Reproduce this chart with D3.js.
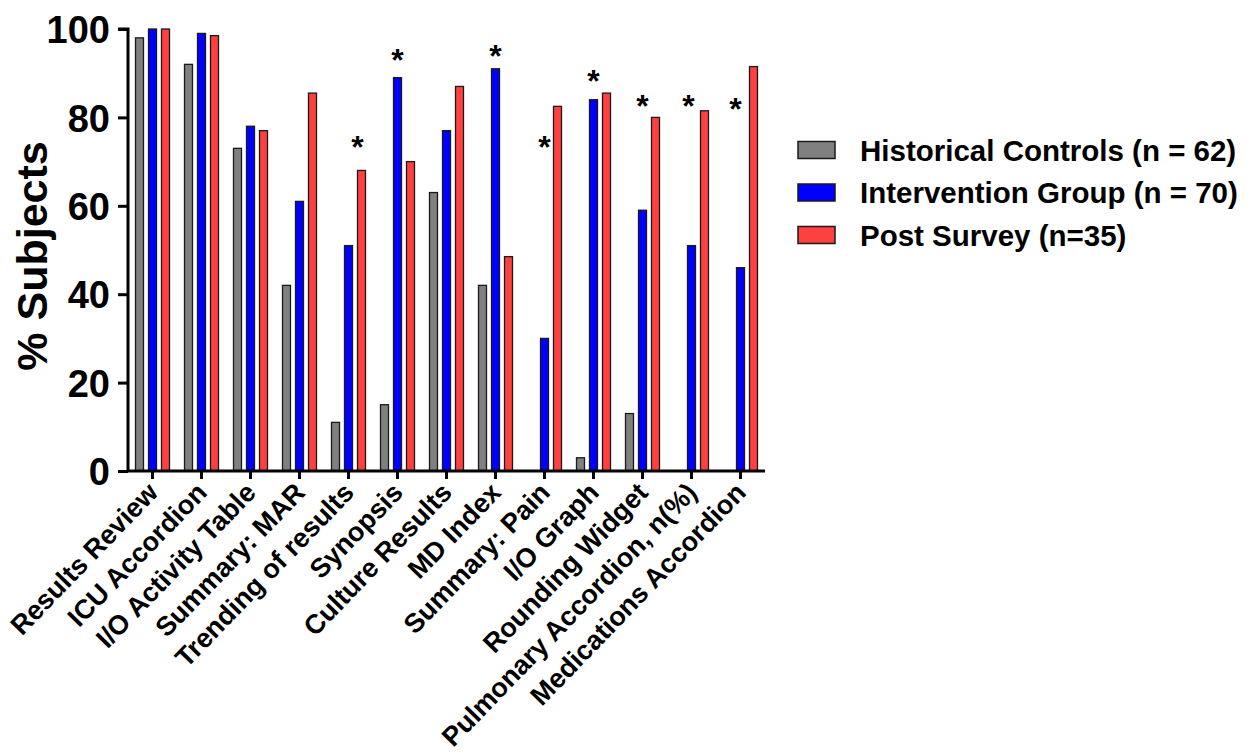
<!DOCTYPE html>
<html>
<head>
<meta charset="utf-8">
<script src="https://cdn.jsdelivr.net/npm/d3@7"></script>
<style>
  body { margin: 0; background: #fff; }
  svg { display: block; }
  text { font-family: Arial, "Liberation Sans", sans-serif; font-weight: bold; fill: #000; }
</style>
</head>
<body>
<svg id="chart" width="1255" height="756"></svg>
<script>
const categories = ["Results Review", "ICU Accordion", "I/O Activity Table", "Summary: MAR",
  "Trending of results", "Synopsis", "Culture Results", "MD Index", "Summary: Pain",
  "I/O Graph", "Rounding Widget", "Pulmonary Accordion, n(%)", "Medications Accordion"];
const seriesNames = ["Historical Controls (n = 62)", "Intervention Group (n = 70)", "Post Survey (n=35)"];
const historical = [98, 92, 73, 42, 11, 15, 63, 42, 0, 3, 13, 0, 0];
const intervention = [100, 99, 78, 61, 51, 89, 77, 91, 30, 84, 59, 51, 46];
const postSurvey = [100, 98.5, 77, 85.5, 68, 70, 87, 48.5, 82.5, 85.5, 80, 81.5, 91.5];
const seriesColors = ["#808080", "#0000ff", "#ff4040"];
const yTicks = [0, 20, 40, 60, 80, 100];
// significance stars: category, series index above which it sits, level (in % units)
const starCats = ["Trending of results", "Synopsis", "MD Index", "Summary: Pain", "I/O Graph", "Rounding Widget", "Pulmonary Accordion, n(%)", "Medications Accordion"];
const starSeries = [2, 1, 1, 1, 1, 1, 1, 1];
const starLevels = [75, 94.6, 95.5, 75, 90, 84.2, 84.2, 83.5];
const starDx = [-4, 0, 0, 0, 0, 0, -3, -5];

const svg = d3.select("#chart");
const x0 = 128, x1 = 765, yBottom = 471, yTop = 29;

const x = d3.scaleBand().domain(categories).range([x0, x1]).paddingInner(0).paddingOuter(0);
const xs = d3.scaleBand().domain([0, 1, 2]).range([0, x.bandwidth()]).paddingInner(0.385).paddingOuter(0.577);
const y = d3.scaleLinear().domain([0, 100]).range([yBottom, yTop]);

const allSeries = [historical, intervention, postSurvey];

// bars
const g = svg.append("g");
allSeries.forEach((vals, si) => {
  g.selectAll(null)
    .data(vals.map((v, i) => ({ c: categories[i], v })))
    .enter()
    .filter(d => d.v > 0)
    .append("rect")
    .attr("x", d => x(d.c) + xs(si))
    .attr("width", xs.bandwidth())
    .attr("y", d => y(d.v))
    .attr("height", d => y(0) - y(d.v))
    .attr("fill", seriesColors[si])
    .attr("stroke", "#1a1a1a")
    .attr("stroke-width", 1.3);
});

// y axis
const yAxis = d3.axisLeft(y).tickValues(yTicks).tickSize(10).tickPadding(8).tickFormat(d3.format("d"));
const gy = svg.append("g").attr("transform", `translate(${x0},0)`).call(yAxis);
gy.select(".domain").attr("stroke", "#000").attr("stroke-width", 3).attr("d", `M-10,${yTop}H0V${yBottom}`);
gy.selectAll(".tick line").attr("stroke", "#000").attr("stroke-width", 3);
gy.selectAll(".tick text").style("font-size", "38px").style("font-family", "Arial, 'Liberation Sans', sans-serif").style("font-weight", "bold").attr("dy", "0.36em");

// x axis
const xAxis = d3.axisBottom(x).tickSize(8).tickFormat("");
const gx = svg.append("g").attr("transform", `translate(0,${yBottom})`).call(xAxis);
gx.select(".domain").attr("stroke", "#000").attr("stroke-width", 3).attr("d", `M${x0},0H${x1}`);
gx.selectAll(".tick line").attr("stroke", "#000").attr("stroke-width", 3);

// x labels
svg.append("g").selectAll("text")
  .data(categories)
  .enter().append("text")
  .attr("transform", d => `translate(${x(d) + x.bandwidth() / 2 + 7},${yBottom + 23}) rotate(-46)`)
  .attr("text-anchor", "end")
  .style("font-size", "27px")
  .text(d => d);

// y title
svg.append("text")
  .attr("transform", `translate(47,256) rotate(-90)`)
  .attr("text-anchor", "middle")
  .style("font-size", "43px")
  .text("% Subjects");

// stars
const starSize = 32;
svg.append("g").selectAll("text")
  .data(starCats.map((c, i) => ({ c, s: starSeries[i], lv: starLevels[i], dx: starDx[i] })))
  .enter().append("text")
  .attr("x", d => x(d.c) + xs(d.s) + xs.bandwidth() / 2 + d.dx)
  .attr("y", d => y(d.lv) + starSize * 0.58)
  .attr("text-anchor", "middle")
  .style("font-size", starSize + "px")
  .text("*");

// legend
const legend = svg.append("g").attr("transform", "translate(798,150)");
seriesNames.forEach((name, i) => {
  const row = legend.append("g").attr("transform", `translate(0,${i * 42.5})`);
  row.append("rect").attr("x", 0).attr("y", -8.5).attr("width", 37).attr("height", 17)
    .attr("fill", seriesColors[i]).attr("stroke", "#1a1a1a").attr("stroke-width", 1.5);
  row.append("text").attr("x", 62).attr("y", 0).attr("dy", "0.36em")
    .style("font-size", "29.5px").text(name);
});
</script>
</body>
</html>
